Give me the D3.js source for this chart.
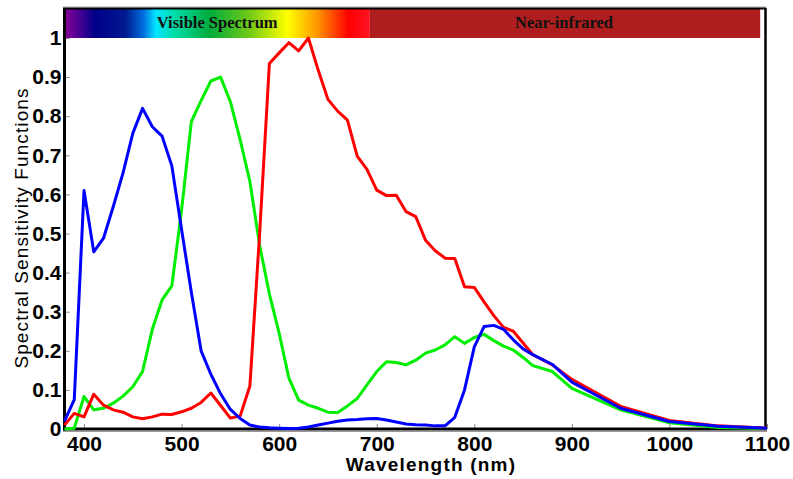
<!DOCTYPE html>
<html>
<head>
	<meta charset="utf-8">
	<title>Spectral Sensitivity Functions</title>
	<script src="https://cdn.jsdelivr.net/npm/d3@7"></script>
	<style>
	body { margin: 0; background: #fff; }
	svg { display: block; }
	</style>
</head>
<body>
	<script>
		// Data
		let wavelengths = [380, 390, 400, 410, 420, 430, 440, 450, 460, 470, 480, 490,
			500, 510, 520, 530, 540, 550, 560, 570, 580, 590,
			600, 610, 620, 630, 640, 650, 660, 670, 680, 690,
			700, 710, 720, 730, 740, 750, 760, 770, 780, 790,
			800, 810, 820, 830, 840, 850, 860, 880, 900, 950, 1000, 1050, 1100];

		let greenValues = [0, 0.002, 0.083, 0.049, 0.053, 0.066, 0.084, 0.108, 0.147, 0.255, 0.33, 0.366,
			0.56, 0.786, 0.84, 0.89, 0.9, 0.837, 0.74, 0.633, 0.47, 0.345,
			0.245, 0.13, 0.074, 0.061, 0.053, 0.043, 0.042, 0.059, 0.078, 0.113,
			0.147, 0.172, 0.17, 0.164, 0.176, 0.194, 0.202, 0.215, 0.236, 0.219,
			0.234, 0.242, 0.226, 0.212, 0.202, 0.183, 0.162, 0.147, 0.104, 0.049, 0.016, 0.004, 0.001];

		let redValues = [0.01, 0.04, 0.031, 0.089, 0.061, 0.049, 0.043, 0.031, 0.026, 0.031, 0.038, 0.037,
			0.044, 0.053, 0.068, 0.092, 0.06, 0.028, 0.033, 0.11, 0.5, 0.935,
			0.962, 0.988, 0.967, 1.0, 0.918, 0.843, 0.813, 0.79, 0.698, 0.664,
			0.611, 0.597, 0.598, 0.556, 0.543, 0.483, 0.456, 0.437, 0.436, 0.364,
			0.362, 0.325, 0.29, 0.26, 0.25, 0.22, 0.19, 0.164, 0.127, 0.058, 0.022, 0.008, 0.002];

		let blueValues = [0.02, 0.075, 0.61, 0.453, 0.488, 0.569, 0.655, 0.756, 0.82, 0.773, 0.749, 0.673,
			0.51, 0.35, 0.2, 0.14, 0.09, 0.05, 0.027, 0.01, 0.005, 0.003,
			0.002, 0.001, 0.002, 0.005, 0.01, 0.015, 0.02, 0.023, 0.024, 0.026,
			0.027, 0.023, 0.018, 0.013, 0.011, 0.01, 0.008, 0.008, 0.03, 0.1,
			0.21, 0.262, 0.265, 0.255, 0.228, 0.205, 0.19, 0.165, 0.12, 0.053, 0.019, 0.007, 0.002];

		let xTicks = [400, 500, 600, 700, 800, 900, 1000, 1100];
		let yTicks = [0, 0.1, 0.2, 0.3, 0.4, 0.5, 0.6, 0.7, 0.8, 0.9, 1];
		let yTickLabels = ['0', '0.1', '0.2', '0.3', '0.4', '0.5', '0.6', '0.7', '0.8', '0.9', '1'];

		// top band: names and wavelength edges
		let bandNames = ['Visible Spectrum', 'Near-infrared'];
		let bandEdges = [380, 693, 1093];

		let W = 793, H = 479;
		let svg = d3.select('body').append('svg')
					.attr('width', W)
					.attr('height', H);

		let x = d3.scaleLinear().domain([380, 1100]).range([64.5, 767]);
		let y = d3.scaleLinear().domain([0, 1]).range([429, 38]);
		let yTop = 9; // top of the band

		// gradient of the visible band
		let grad = svg.append('defs').append('linearGradient')
						.attr('id', 'spec')
						.attr('x1', '0%').attr('x2', '100%')
						.attr('y1', '0%').attr('y2', '0%');
		let stops = [
			[0, '#8c0098'], [0.1, '#00008a'], [0.2, '#001a90'], [0.26, '#0070e0'],
			[0.3, '#00e6ff'], [0.36, '#00dca8'], [0.475, '#00ac3c'], [0.6, '#6cc818'],
			[0.73, '#ffff00'], [0.83, '#ff9400'], [0.93, '#ff0000'], [1, '#ff1424']
		];
		grad.selectAll('stop').data(stops).enter().append('stop')
			.attr('offset', function(d) { return d[0]; })
			.attr('stop-color', function(d) { return d[1]; });

		let band = svg.append('g');
		band.selectAll('rect').data(bandNames).enter().append('rect')
			.attr('x', function(d, i) { return x(bandEdges[i]); })
			.attr('y', yTop)
			.attr('width', function(d, i) { return x(bandEdges[i + 1]) - x(bandEdges[i]); })
			.attr('height', y(1) - yTop)
			.attr('fill', function(d, i) { return i == 0 ? 'url(#spec)' : '#ae1e1e'; });
		band.selectAll('text').data(bandNames).enter().append('text')
			.text(function(d) { return d; })
			.attr('x', function(d, i) { return (x(bandEdges[i]) + x(bandEdges[i + 1])) / 2 + (i == 0 ? 0 : -1); })
			.attr('y', 28)
			.attr('text-anchor', 'middle')
			.style('font-family', '"Liberation Serif", "DejaVu Serif", serif')
			.style('font-weight', 'bold')
			.style('font-size', '16.5px')
			.style('fill', '#111');

		// frame: top and right
		svg.append('line').attr('x1', 63).attr('x2', 766).attr('y1', 7).attr('y2', 7)
			.attr('stroke', '#aaa').attr('stroke-width', 1);
		svg.append('line').attr('x1', 63).attr('x2', 766).attr('y1', 8.5).attr('y2', 8.5)
			.attr('stroke', '#000').attr('stroke-width', 2);
		svg.append('line').attr('x1', 765.5).attr('x2', 765.5).attr('y1', 8).attr('y2', 430)
			.attr('stroke', '#000').attr('stroke-width', 2.5);

		// axes
		let tickFont = '"Liberation Sans", Arial, Helvetica, sans-serif';
		let xAxis = svg.append('g')
						.attr('transform', 'translate(0,' + y(0) + ')')
						.call(d3.axisBottom(x).tickValues(xTicks).tickSize(-5).tickPadding(7)
							.tickFormat(d3.format('d')));
		let yAxis = svg.append('g')
						.attr('transform', 'translate(' + x(380) + ',0)')
						.call(d3.axisLeft(y).tickValues(yTicks).tickSize(-5).tickPadding(3)
							.tickFormat(function(d, i) { return yTickLabels[i]; }));

		[xAxis, yAxis].forEach(function(a) {
			a.select('.domain').remove();
			a.selectAll('line').attr('stroke', '#888').attr('stroke-width', 1);
			a.selectAll('text')
				.style('font-family', tickFont)
				.style('font-weight', 'bold')
				.style('font-size', '21px')
				.attr('fill', '#000');
		});

		// axis lines
		svg.append('line').attr('x1', 63).attr('x2', 767).attr('y1', 431.5).attr('y2', 431.5)
			.attr('stroke', '#999').attr('stroke-width', 1);
		svg.append('line').attr('x1', 63).attr('x2', 767).attr('y1', y(0)).attr('y2', y(0))
			.attr('stroke', '#000').attr('stroke-width', 3);
		svg.append('line').attr('x1', x(380)).attr('x2', x(380)).attr('y1', 8).attr('y2', 430.5)
			.attr('stroke', '#000').attr('stroke-width', 3);

		// curves
		let line = d3.line()
			.x(function(d, i) { return x(wavelengths[i]); })
			.y(function(d) { return y(d); });

		let series = [greenValues, redValues, blueValues];
		let colors = ['#00ee00', '#ff0000', '#0000ff'];
		series.forEach(function(s, i) {
			svg.append('path')
				.datum(s)
				.attr('d', line)
				.attr('fill', 'none')
				.attr('stroke', colors[i])
				.attr('stroke-width', 3)
				.attr('stroke-linejoin', 'round');
		});

		// axis titles
		svg.append('text').text('Wavelength (nm)')
			.attr('x', 431).attr('y', 471)
			.attr('text-anchor', 'middle')
			.style('font-family', tickFont)
			.style('font-weight', 'bold')
			.style('font-size', '19px')
			.style('letter-spacing', '1.2px');

		svg.append('text').text('Spectral Sensitivity Functions')
			.attr('transform', 'translate(28,228) rotate(-90)')
			.attr('text-anchor', 'middle')
			.style('font-family', tickFont)
			.style('font-size', '19px')
			.style('letter-spacing', '1.1px');
	</script>
</body>
</html>
